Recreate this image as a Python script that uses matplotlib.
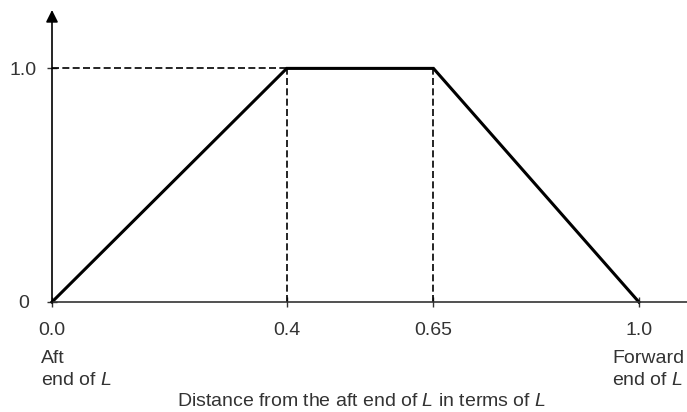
import matplotlib
matplotlib.use("Agg")
import matplotlib.pyplot as plt

# chart data
x_pts = [0.0, 0.4, 0.65, 1.0]
y_pts = [0.0, 1.0, 1.0, 0.0]
xtick_vals = [0.0, 0.4, 0.65, 1.0]
xtick_labels = ['0.0', '0.4', '0.65', '1.0']
ytick_vals = [0.0, 1.0]
ytick_labels = ['0', '1.0']
end_labels = ['Aft\nend of $L$', 'Forward\nend of $L$']
xlabel = 'Distance from the aft end of $L$ in terms of $L$'

plt.rcParams['font.family'] = ['Liberation Sans', 'DejaVu Sans']
plt.rcParams['mathtext.fontset'] = 'custom'
plt.rcParams['mathtext.rm'] = 'Liberation Sans'
plt.rcParams['mathtext.it'] = 'Liberation Sans:italic'

txt = '#333333'
fs = 14

fig = plt.figure(figsize=(6.87, 4.12), dpi=100)
ax = fig.add_axes([52 / 687, 110 / 412, 635 / 687, 292 / 412])
ax.set_xlim(0, 1.082)
ax.set_ylim(0, 1.25)

# the trapezoid
ax.plot(x_pts, y_pts, color='black', lw=2.2, clip_on=False, solid_joinstyle='miter')

# dashed guide lines
dash = (0, (4.2, 2.0))
ax.plot([0, x_pts[1]], [1, 1], color='black', lw=1.2, linestyle=dash)
ax.plot([x_pts[1], x_pts[1]], [0, 1], color='black', lw=1.2, linestyle=dash)
ax.plot([x_pts[2], x_pts[2]], [0, 1], color='black', lw=1.2, linestyle=dash)

# axes: only left and bottom, y axis gets an arrow
for s in ['top', 'right', 'left']:
    ax.spines[s].set_visible(False)
ax.spines['bottom'].set_color('#333333')
ax.spines['bottom'].set_linewidth(1.2)
ax.annotate('', xy=(0, 1.25), xytext=(0, 0), xycoords='data',
            arrowprops=dict(arrowstyle='-|>,head_length=0.6,head_width=0.3',
                            color='black', lw=1.2, shrinkA=0, shrinkB=0,
                            mutation_scale=12), annotation_clip=False)

ax.set_xticks(xtick_vals)
ax.set_xticklabels(xtick_labels)
ax.set_yticks(ytick_vals)
ax.set_yticklabels(ytick_labels, ha='center')
ax.tick_params(axis='x', direction='inout', length=7, width=1.0, color='#333333',
               labelsize=fs, labelcolor=txt, pad=11)
ax.tick_params(axis='y', direction='inout', length=7, width=1.0, color='#333333',
               labelsize=fs, labelcolor=txt, pad=17)

# end labels under the first and last tick
ax.text(-0.019, -0.163, end_labels[0], transform=ax.get_xaxis_transform(),
        ha='left', va='top', fontsize=fs, color=txt, linespacing=1.38)
ax.text(1.077, -0.163, end_labels[1], transform=ax.get_xaxis_transform(),
        ha='right', va='top', fontsize=fs, color=txt, linespacing=1.38,
        multialignment='left')

ax.text(0.488, -0.34, xlabel, transform=ax.transAxes, ha='center', va='center',
        fontsize=fs, color=txt)

fig.savefig('out.png', dpi=100)
